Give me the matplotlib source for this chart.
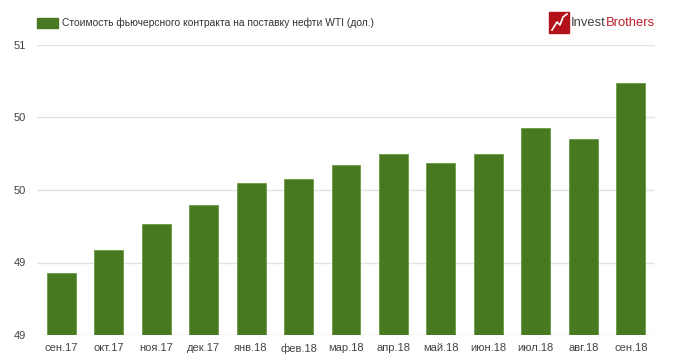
import matplotlib.pyplot as plt
from matplotlib.patches import Rectangle
from matplotlib.ticker import FuncFormatter

plt.rcParams['font.family'] = ['Liberation Sans', 'DejaVu Sans']

# months and futures price (USD)
months = ['сен.17', 'окт.17', 'ноя.17', 'дек.17', 'янв.18', 'фев.18', 'мар.18',
          'апр.18', 'май.18', 'июн.18', 'июл.18', 'авг.18', 'сен.18']
prices = [49.34, 49.47, 49.61, 49.72, 49.84, 49.86, 49.94,
          50.00, 49.95, 50.00, 50.14, 50.08, 50.39]
yticks = [49.0, 49.4, 49.8, 50.2, 50.6]
legend_label = 'Стоимость фьючерсного контракта на поставку нефти WTI (дол.)'

green = '#48781f'

fig = plt.figure(figsize=(6.8, 3.63), dpi=100)
ax = fig.add_axes([37/680, 28/363, 618/680, 290/363])

x = range(len(months))
ax.bar(x, prices, width=0.61, color=green, edgecolor='#6a9a45', linewidth=0.6, zorder=2)

ax.set_xlim(-0.51, len(months) - 0.49)
ax.set_ylim(yticks[0], yticks[-1])
ax.set_yticks(yticks)
ax.yaxis.set_major_formatter(FuncFormatter(lambda v, p: '%d' % round(v)))
ax.set_xticks(list(x))
ax.set_xticklabels(months)
ax.grid(axis='y', color='#e2e2e2', linewidth=1, zorder=0)
for s in ax.spines.values():
    s.set_visible(False)
ax.tick_params(length=0, colors='#444444', labelsize=8)
ax.tick_params(axis='y', pad=8)
ax.tick_params(axis='x', pad=6)

# legend
fig.patches.append(Rectangle((37/680, 1 - 28/363), 21/680, 10/363,
                             transform=fig.transFigure, color=green))
fig.text(62/680, 1 - 23/363, legend_label, fontsize=7.4, color='#333333', va='center')

# logo
fig.patches.append(Rectangle((549/680, 1 - 33/363), 20/680, 21/363,
                             transform=fig.transFigure, color='#b3121b'))
fig.lines.append(plt.Line2D([552/680, 557/680, 560/680, 563/680, 567/680],
                            [1 - 30/363, 1 - 22/363, 1 - 25/363, 1 - 17/363, 1 - 14/363],
                            transform=fig.transFigure, color='white', linewidth=1.2))
t1 = fig.text(571/680, 1 - 23/363, 'Invest', fontsize=9.4, color='#444444', va='center')
fig.canvas.draw()
bb = t1.get_window_extent()
fig.text(bb.x1 / 680, 1 - 23/363, 'Brothers', fontsize=9.4, color='#c0202a', va='center')

fig.savefig('out.png', dpi=100, facecolor='white')
